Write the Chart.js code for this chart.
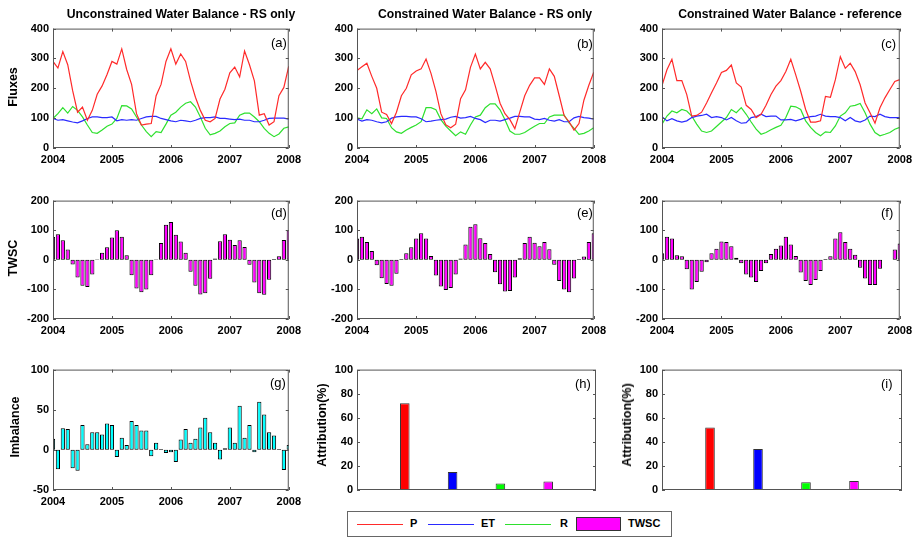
<!DOCTYPE html>
<html>
<head>
<meta charset="utf-8">
<script src="https://cdn.jsdelivr.net/npm/chart.js@4"></script>
<style>
  body { margin: 0; background: #fff; width: 921px; height: 539px; position: relative; overflow: hidden;
         font-family: 'Liberation Sans', Arial, sans-serif; color: #000; }
  canvas { position: absolute; }
  .title { position: absolute; font-weight: bold; font-size: 12.2px; white-space: nowrap; transform: translateX(-50%); }
  .ylab { position: absolute; font-weight: bold; font-size: 12.5px; white-space: nowrap; transform: translate(-50%, -50%) rotate(-90deg); }
  .tag { position: absolute; font-size: 13px; }
  .legend { position: absolute; left: 347px; top: 511px; width: 323px; height: 24px; border: 1px solid #666; background: #fff; }
  .legend div { position: absolute; }
  .legend .txt { font-weight: bold; font-size: 11px; top: 5px; }
</style>
</head>
<body>
<script>
// monthly series, Jan 2004 .. Jan 2008
const yearTicks = [2004, 2005, 2006, 2007, 2008];

// (a) unconstrained water balance - RS only
const pA = [290, 268, 323, 279, 192, 120, 137, 93, 126, 180, 208, 246, 290, 281, 332, 263, 213, 115, 77, 80, 82, 175, 213, 290, 332,
            281, 315, 290, 225, 170, 126, 93, 88, 99, 164, 197, 252, 271, 238, 325, 279, 225, 110, 115, 77, 88, 175, 203, 274];
const etA = [99, 93, 95, 91, 87, 84, 91, 99, 104, 104, 102, 102, 104, 91, 95, 93, 95, 93, 99, 104, 106, 106, 99, 95, 91,
             88, 93, 91, 88, 93, 99, 102, 102, 104, 99, 99, 97, 95, 97, 93, 93, 88, 88, 93, 99, 100, 100, 100, 97];
const rA = [99, 115, 135, 117, 139, 126, 104, 77, 52, 49, 60, 73, 80, 99, 142, 141, 131, 104, 77, 55, 38, 55, 52, 80, 110,
            120, 137, 150, 155, 137, 104, 66, 44, 49, 57, 71, 82, 84, 110, 117, 117, 104, 88, 66, 49, 38, 47, 66, 71];

// (b) constrained water balance - RS only
const pB = [260, 272, 284, 240, 200, 120, 112, 82, 120, 175, 200, 245, 258, 265, 298, 250, 190, 115, 78, 68, 80, 165, 195, 270, 315,
            265, 287, 265, 210, 150, 115, 95, 65, 120, 175, 210, 235, 235, 213, 265, 240, 175, 108, 88, 60, 82, 160, 210, 254];
const etB = [97, 90, 95, 93, 88, 84, 88, 100, 104, 106, 106, 104, 104, 98, 88, 90, 93, 95, 97, 103, 106, 100, 102, 106, 99,
             95, 85, 93, 93, 90, 95, 100, 106, 106, 104, 104, 97, 95, 99, 93, 90, 95, 88, 88, 101, 106, 102, 100, 97];
const rB = [101, 98, 128, 115, 131, 101, 99, 68, 54, 49, 60, 69, 77, 88, 135, 135, 128, 95, 73, 57, 41, 54, 46, 77, 104,
            110, 135, 148, 148, 128, 95, 57, 46, 46, 52, 63, 73, 82, 82, 104, 110, 110, 110, 84, 66, 46, 49, 57, 68];

// (c) constrained water balance - reference
const pC = [209, 262, 297, 226, 226, 179, 107, 109, 120, 151, 185, 218, 253, 260, 278, 218, 204, 143, 129, 102, 113, 143, 179, 207, 226,
            256, 297, 245, 190, 129, 87, 87, 91, 173, 170, 229, 306, 267, 284, 256, 212, 151, 118, 83, 135, 168, 196, 223, 229];
const etC = [105, 91, 98, 91, 87, 91, 102, 107, 109, 113, 102, 105, 102, 94, 102, 91, 83, 85, 102, 105, 113, 105, 107, 107, 94,
             94, 96, 91, 96, 102, 105, 107, 113, 107, 105, 105, 102, 91, 102, 91, 87, 94, 107, 105, 113, 105, 102, 102, 102];
const rC = [80, 107, 124, 118, 129, 124, 107, 80, 57, 52, 57, 72, 87, 102, 129, 118, 135, 113, 87, 63, 46, 52, 61, 69, 76,
            102, 140, 138, 129, 91, 69, 52, 41, 54, 52, 74, 107, 118, 140, 143, 149, 118, 80, 52, 41, 46, 52, 63, 69];

// (d)-(f) TWSC
const twscD = [77, 86, 66, 35, -16, -60, -88, -92, -50, 2, 24, 42, 75, 100, 78, 15, -52, -97, -110, -100, -52, 2, 57, 118, 128,
               85, 62, 24, -40, -88, -117, -113, -64, 4, 63, 86, 68, 50, 66, 43, -17, -77, -113, -118, -67, 3, 12, 67, 100];
const twscE = [72, 78, 60, 30, -18, -62, -82, -88, -47, 3, 22, 42, 72, 90, 72, 13, -53, -90, -102, -95, -50, 4, 52, 112, 120,
               73, 57, 20, -42, -83, -107, -105, -60, 5, 57, 78, 58, 46, 60, 36, -17, -72, -100, -110, -63, 3, 11, 60, 90];
const twscF = [22, 78, 72, 15, 12, -32, -100, -75, -40, -8, 22, 37, 62, 60, 46, 7, -12, -50, -60, -75, -38, -12, 20, 37, 48,
               78, 52, 13, -43, -72, -85, -68, -38, 3, 12, 72, 93, 60, 37, 17, -27, -63, -85, -85, -30, 0, 0, 35, 55];

// (g) imbalance
const imbalance = [14, -24, 27, 26, -23, -26, 31, 7, 22, 22, 19, 33, 31, -9, 15, 6, 36, 31, 24, 24, -8, 9, 1, -4, -3,
                   -15, 13, 26, 9, 14, 28, 40, 22, 9, -12, 2, 28, 9, 55, 15, 31, -3, 60, 44, 22, 18, 1, -25, 6];

// (h), (i) attribution
const attribCategories = ['P', 'ET', 'R', 'TWSC'];
const attribColors = ['#ff0000', '#0000ff', '#00ff00', '#ff00ff'];
const attribH = [72, 15, 5.5, 7];
const attribI = [52, 34, 6.5, 7.5];

const RED = '#ff2a2a', BLUE = '#2a2aff', GREEN = '#2ee02e';

Chart.defaults.font.family = "'Liberation Sans', Arial, sans-serif";
Chart.defaults.font.size = 11;
Chart.defaults.font.weight = 'bold';
Chart.defaults.color = '#000';

// box round the plot plus matlab style inward ticks on all sides
const frame = {
  id: 'frame',
  afterDraw(chart, args, opts) {
    const { ctx, chartArea: a, scales } = chart;
    ctx.save();
    ctx.strokeStyle = '#555';
    ctx.lineWidth = 1;
    ctx.strokeRect(a.left + 0.5, a.top + 0.5, a.right - a.left - 1, a.bottom - a.top - 1);
    ctx.beginPath();
    scales.y.ticks.forEach(t => {
      const y = Math.round(scales.y.getPixelForValue(t.value)) + 0.5;
      ctx.moveTo(a.left, y); ctx.lineTo(a.left + 3, y);
      ctx.moveTo(a.right, y); ctx.lineTo(a.right - 3, y);
    });
    if (opts.xTicks) {
      scales.x.ticks.forEach(t => {
        const x = Math.round(scales.x.getPixelForValue(t.value)) + 0.5;
        ctx.moveTo(x, a.bottom); ctx.lineTo(x, a.bottom - 3);
        ctx.moveTo(x, a.top); ctx.lineTo(x, a.top + 3);
      });
    }
    ctx.stroke();
    ctx.restore();
  }
};

const monthly = vals => vals.map((v, i) => ({ x: 2004 + i / 12, y: v }));

function yAxis(min, max, step) {
  return {
    min: min, max: max,
    ticks: { stepSize: step, padding: 4 },
    grid: { display: false, drawTicks: false },
    border: { display: false },
    afterFit: s => { s.width = 40; }
  };
}

function timeAxis() {
  return {
    type: 'linear', min: 2004, max: 2008, offset: false,
    ticks: { stepSize: 1, padding: 5, maxRotation: 0, autoSkip: false, callback: v => String(v) },
    grid: { display: false, drawTicks: false, offset: false },
    border: { display: false },
    afterFit: s => { s.height = 20; }
  };
}

// plot area: left, top, right, bottom in page pixels
function panel(area, type, datasets, y, x, xTicks) {
  const [L, T, R, B] = area;
  const c = document.createElement('canvas');
  c.width = R - L + 55;
  c.height = B - T + 28;
  c.style.left = (L - 40) + 'px';
  c.style.top = (T - 8) + 'px';
  document.body.appendChild(c);
  new Chart(c.getContext('2d'), {
    type: type,
    data: { datasets: datasets },
    options: {
      responsive: false, animation: false, devicePixelRatio: 1,
      layout: { padding: { top: 8, right: 15, left: 0, bottom: 0 } },
      plugins: { legend: { display: false }, tooltip: { enabled: false }, frame: { xTicks: xTicks } },
      scales: { x: x, y: y }
    },
    plugins: [frame]
  });
}

function fluxes(p, et, r) {
  const line = (v, col) => ({ data: monthly(v), borderColor: col, borderWidth: 1.2, pointRadius: 0, tension: 0 });
  return [line(p, RED), line(et, BLUE), line(r, GREEN)];
}

function monthBars(v, col) {
  return [{ data: monthly(v), backgroundColor: col, borderColor: '#000', borderWidth: 1, borderSkipped: false,
            barPercentage: 0.86, categoryPercentage: 1 }];
}

function attribBars(v) {
  return [{ data: v.map((val, i) => ({ x: i + 1, y: val })), backgroundColor: attribColors,
            borderColor: '#333', borderWidth: 1, borderSkipped: false, barPercentage: 0.2, categoryPercentage: 1 }];
}

function catAxis() {
  return {
    type: 'linear', min: 0, max: attribCategories.length + 1, offset: false,
    ticks: { display: false },
    grid: { display: false, drawTicks: false, offset: false },
    border: { display: false },
    afterFit: s => { s.height = 20; }
  };
}

const col = [[53, 291], [357, 596], [662, 902]];
const row = [[26, 148], [198, 319], [367, 490]];
const area = (r, c) => [col[c][0], row[r][0], col[c][1], row[r][1]];

panel(area(0, 0), 'line', fluxes(pA, etA, rA), yAxis(0, 400, 100), timeAxis(), true);
panel(area(0, 1), 'line', fluxes(pB, etB, rB), yAxis(0, 400, 100), timeAxis(), true);
panel(area(0, 2), 'line', fluxes(pC, etC, rC), yAxis(0, 400, 100), timeAxis(), true);

panel(area(1, 0), 'bar', monthBars(twscD, '#ff00ff'), yAxis(-200, 200, 100), timeAxis(), true);
panel(area(1, 1), 'bar', monthBars(twscE, '#ff00ff'), yAxis(-200, 200, 100), timeAxis(), true);
panel(area(1, 2), 'bar', monthBars(twscF, '#ff00ff'), yAxis(-200, 200, 100), timeAxis(), true);

panel(area(2, 0), 'bar', monthBars(imbalance, '#00ffff'), yAxis(-50, 100, 50), timeAxis(), true);
panel(area(2, 1), 'bar', attribBars(attribH), yAxis(0, 100, 20), catAxis(), false);
panel(area(2, 2), 'bar', attribBars(attribI), yAxis(0, 100, 20), catAxis(), false);

// texts
function text(cls, str, left, top) {
  const d = document.createElement('div');
  d.className = cls;
  d.textContent = str;
  d.style.left = left + 'px';
  d.style.top = top + 'px';
  document.body.appendChild(d);
}
text('title', 'Unconstrained Water Balance - RS only', 181, 7);
text('title', 'Constrained Water Balance - RS only', 485, 7);
text('title', 'Constrained Water Balance - reference', 790, 7);

text('ylab', 'Fluxes', 13, 87);
text('ylab', 'TWSC', 13, 258);
text('ylab', 'Imbalance', 15, 427);
text('ylab', 'Attribution(%)', 322, 425);
text('ylab', 'Attribution(%)', 627, 425);

text('tag', '(a)', 271, 35);
text('tag', '(b)', 577, 36);
text('tag', '(c)', 881, 36);
text('tag', '(d)', 271, 205);
text('tag', '(e)', 577, 205);
text('tag', '(f)', 881, 205);
text('tag', '(g)', 270, 375);
text('tag', '(h)', 575, 376);
text('tag', '(i)', 881, 376);

// legend
const lg = document.createElement('div');
lg.className = 'legend';
lg.innerHTML =
  '<div style="left:9px;top:12px;width:46px;height:0;border-top:1px solid ' + RED + '"></div>' +
  '<div class="txt" style="left:62px">P</div>' +
  '<div style="left:80px;top:12px;width:46px;height:0;border-top:1px solid ' + BLUE + '"></div>' +
  '<div class="txt" style="left:133px">ET</div>' +
  '<div style="left:157px;top:12px;width:46px;height:0;border-top:1px solid ' + GREEN + '"></div>' +
  '<div class="txt" style="left:212px">R</div>' +
  '<div style="left:228px;top:5px;width:43px;height:12px;background:#ff00ff;border:1px solid #333"></div>' +
  '<div class="txt" style="left:280px">TWSC</div>';
document.body.appendChild(lg);
</script>
</body>
</html>
